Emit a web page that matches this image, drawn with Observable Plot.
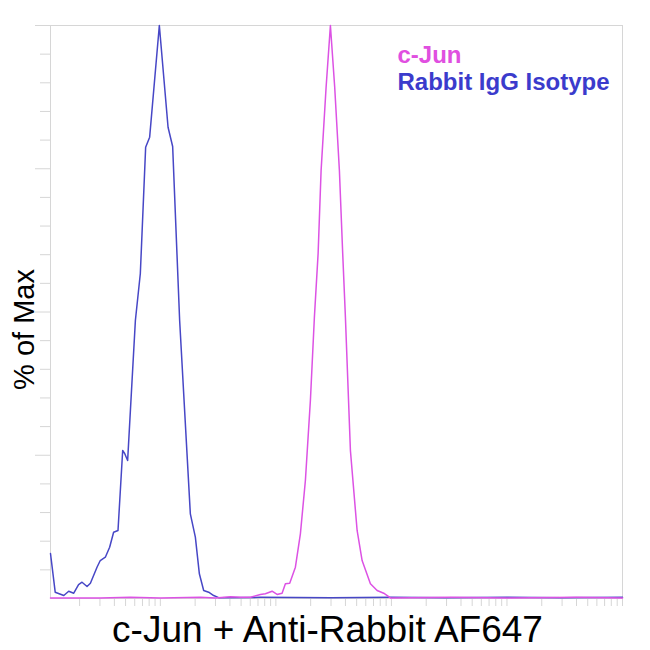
<!DOCTYPE html>
<html>
<head>
<meta charset="utf-8">
<script src="https://cdn.jsdelivr.net/npm/d3@7"></script>
<script src="https://cdn.jsdelivr.net/npm/@observablehq/plot@0.6"></script>
<style>
  html, body { margin: 0; padding: 0; background: #fff; }
  #chart { width: 650px; height: 650px; }
</style>
</head>
<body>
<div id="chart"></div>
<script>
// ---- data ----
const seriesNames = ["c-Jun", "Rabbit IgG Isotype"];
const xLabel = "c-Jun + Anti-Rabbit AF647";
const yLabel = "% of Max";

// Rabbit IgG Isotype histogram: fluorescence intensity and % of max
const isoX = [11.2, 12.3, 14.6, 16.1, 17.8, 19.6, 21.0, 23.2, 24.8, 28.3, 30.2, 33.4, 36.4, 39.4, 43.0, 47.2, 49.1, 52.1, 56.9, 60.8, 67.1, 74.6, 80.8, 98.0, 116.6, 127.8, 146.9, 181.8, 200.9, 217.6, 237.1, 261.9, 289.4, 319.7, 734, 3000, 10000, 30000, 100000, 300000, 1000000];
const isoY = [7.85, 1.10, 0.52, 1.27, 0.92, 2.44, 2.84, 2.09, 2.67, 5.46, 6.63, 7.21, 8.95, 11.57, 11.87, 25.83, 25.30, 24.08, 38.04, 48.52, 56.72, 78.76, 80.51, 100, 82.25, 78.88, 48.52, 14.78, 10.70, 4.31, 1.40, 1.10, 0.52, 0.15, 0.2, 0.15, 0.2, 0.15, 0.2, 0.15, 0.2];

// c-Jun histogram
const cjunX = [11.2, 30.2, 55.0, 100, 222, 299.4, 403.7, 492.7, 601.6, 734.2, 811.3, 927.1, 1024, 1131.5, 1208.6, 1316.9, 1475.3, 1629.5, 1800.4, 1989, 2154, 2320, 2462, 2720, 2964, 3229, 3546, 3787, 3997, 4416, 5047, 5576, 6580, 7519, 8578, 9802, 32420, 100000, 400000, 1000000];
const cjunY = [0.1, 0.1, 0.2, 0.1, 0.2, 0.1, 0.3, 0.2, 0.23, 0.70, 0.82, 1.27, 0.70, 0.92, 2.56, 2.67, 5.46, 11.29, 20.59, 34.55, 49.09, 60.21, 74.69, 89.23, 100, 89.23, 74.69, 60.21, 49.09, 25.83, 11.87, 6.63, 2.57, 1.40, 0.92, 0.1, 0.2, 0.1, 0.2, 0.1];

// axis tick values
const yTicksMinor = [5, 10, 15, 20, 30, 35, 40, 45, 55, 60, 65, 70, 80, 85, 90, 95];
const yTicksMajor = [25, 50, 75, 100];
const xDecades = [10, 100, 1000, 10000, 100000];
const xMultipliers = [1, 2, 3, 4, 5, 6, 7, 8, 9];
const xDomain = [11.2, 1000000];

// ---- build tables ----
const iso = isoX.map((x, i) => ({x, y: isoY[i]}));
const cjun = cjunX.map((x, i) => ({x, y: cjunY[i]}));
const xTicks = xDecades.flatMap(d => xMultipliers.map(m => m * d))
  .concat([1000000])
  .filter(v => v >= xDomain[0] && v <= xDomain[1]);

const blueLine = "#4747c6";
const pinkLine = "#dc52e4";
const blueText = "#3b3bcc";
const pinkText = "#e04fe0";
const gray = "#d6d6d6";

const chart = Plot.plot({
  width: 650,
  height: 650,
  marginLeft: 50,
  marginTop: 25,
  marginRight: 28,
  marginBottom: 52,
  style: {fontFamily: "'Liberation Sans', Arial, sans-serif", background: "#fff", overflow: "visible"},
  x: {type: "log", domain: xDomain},
  y: {domain: [0, 100]},
  marks: [
    Plot.frame({stroke: gray}),
    Plot.axisY(yTicksMinor, {tickSize: 10, tickFormat: () => "", stroke: gray, strokeOpacity: 1, label: null}),
    Plot.axisY(yTicksMajor, {tickSize: 15, tickFormat: () => "", stroke: gray, strokeOpacity: 1, label: null}),
    Plot.axisX(xTicks, {tickSize: 8, tickFormat: () => "", stroke: gray, strokeOpacity: 1, label: null}),
    Plot.line(iso, {x: "x", y: "y", stroke: blueLine, strokeWidth: 1.5}),
    Plot.line(cjun, {x: "x", y: "y", stroke: pinkLine, strokeWidth: 1.5}),
    Plot.text([seriesNames[0]], {frameAnchor: "top-left", dx: 347, dy: 29.5, text: d => d, textAnchor: "start", lineAnchor: "middle", fontSize: 24, fontWeight: "bold", fill: pinkText}),
    Plot.text([seriesNames[1]], {frameAnchor: "top-left", dx: 347, dy: 56.5, text: d => d, textAnchor: "start", lineAnchor: "middle", fontSize: 24, fontWeight: "bold", fill: blueText}),
    Plot.text([xLabel], {frameAnchor: "bottom", dx: -9, dy: 32, text: d => d, textAnchor: "middle", lineAnchor: "middle", fontSize: 37, fill: "#000"}),
    Plot.text([yLabel], {frameAnchor: "left", dx: -26, dy: 17.5, rotate: -90, text: d => d, textAnchor: "middle", lineAnchor: "middle", fontSize: 29, fill: "#000"})
  ]
});
document.getElementById("chart").appendChild(chart);
</script>
</body>
</html>
